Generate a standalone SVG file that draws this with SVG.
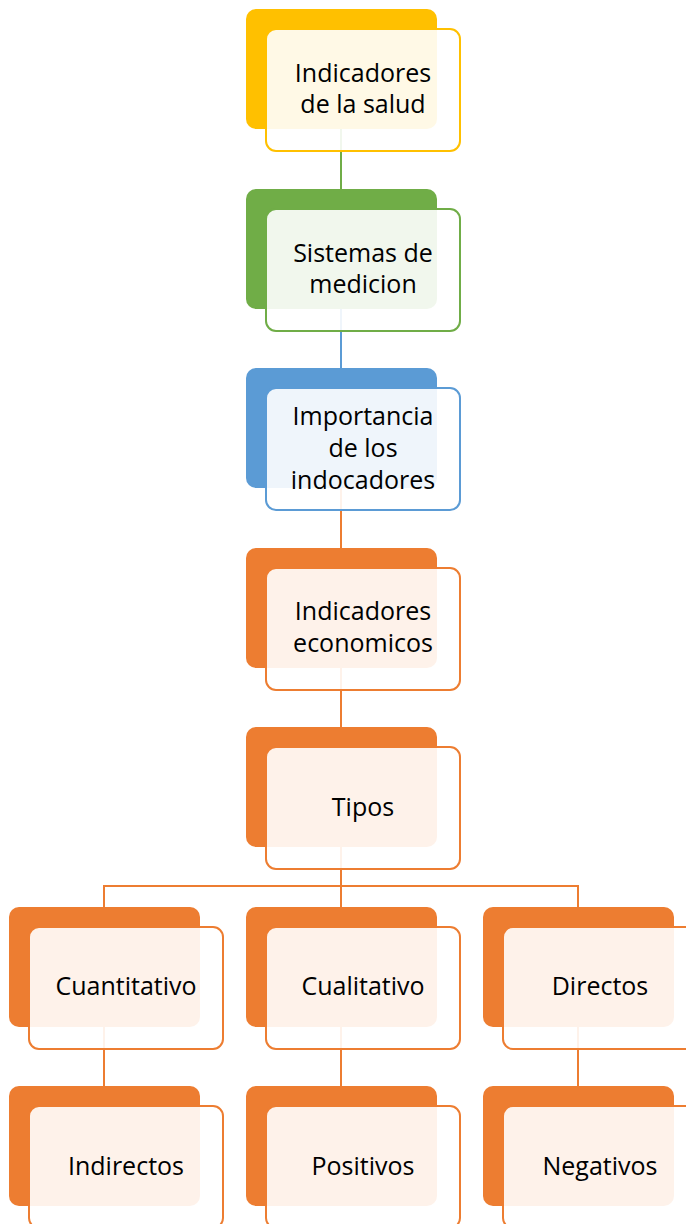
<svg xmlns="http://www.w3.org/2000/svg" width="686" height="1224" viewBox="0 0 686 1224">
<style>
.back{stroke:none}
.front{fill:#ffffff;fill-opacity:0.9;stroke-width:2}
.t{font-family:"Open Sans","Liberation Sans",sans-serif;font-size:25px;fill:#000000;text-anchor:middle}
.c{fill:none;stroke-width:2}
</style>
<rect width="686" height="1224" fill="#ffffff"/>
<g id="connectors">
<line class="c" x1="341" y1="129" x2="341" y2="189" stroke="#70AD47"/>
<line class="c" x1="341" y1="309" x2="341" y2="368" stroke="#5B9BD5"/>
<line class="c" x1="341" y1="488" x2="341" y2="548" stroke="#ED7D31"/>
<line class="c" x1="341" y1="668" x2="341" y2="727" stroke="#ED7D31"/>
<polyline class="c" points="341,847 341,886" stroke="#ED7D31"/>
<polyline class="c" points="104,907 104,886 578,886 578,907" stroke="#ED7D31"/>
<line class="c" x1="341" y1="886" x2="341" y2="907" stroke="#ED7D31"/>
<line class="c" x1="104" y1="1027" x2="104" y2="1086" stroke="#ED7D31"/>
<line class="c" x1="341" y1="1027" x2="341" y2="1086" stroke="#ED7D31"/>
<line class="c" x1="578" y1="1027" x2="578" y2="1086" stroke="#ED7D31"/>
</g>
<g id="n1">
<rect class="back" x="246" y="9" width="191" height="120" rx="10" fill="#FFC000"/>
<rect class="front" x="266" y="29" width="194" height="122" rx="10" stroke="#FFC000"/>
<text class="t" x="363" y="82">Indicadores</text>
<text class="t" x="363" y="113">de la salud</text>
</g>
<g id="n2">
<rect class="back" x="246" y="189" width="191" height="120" rx="10" fill="#70AD47"/>
<rect class="front" x="266" y="209" width="194" height="122" rx="10" stroke="#70AD47"/>
<text class="t" x="363" y="262">Sistemas de</text>
<text class="t" x="363" y="293">medicion</text>
</g>
<g id="n3">
<rect class="back" x="246" y="368" width="191" height="120" rx="10" fill="#5B9BD5"/>
<rect class="front" x="266" y="388" width="194" height="122" rx="10" stroke="#5B9BD5"/>
<text class="t" x="363" y="425">Importancia</text>
<text class="t" x="363" y="457">de los</text>
<text class="t" x="363" y="489">indocadores</text>
</g>
<g id="n4">
<rect class="back" x="246" y="548" width="191" height="120" rx="10" fill="#ED7D31"/>
<rect class="front" x="266" y="568" width="194" height="122" rx="10" stroke="#ED7D31"/>
<text class="t" x="363" y="620">Indicadores</text>
<text class="t" x="363" y="652">economicos</text>
</g>
<g id="n5">
<rect class="back" x="246" y="727" width="191" height="120" rx="10" fill="#ED7D31"/>
<rect class="front" x="266" y="747" width="194" height="122" rx="10" stroke="#ED7D31"/>
<text class="t" x="363" y="816">Tipos</text>
</g>
<g id="n6">
<rect class="back" x="9" y="907" width="191" height="120" rx="10" fill="#ED7D31"/>
<rect class="front" x="29" y="927" width="194" height="122" rx="10" stroke="#ED7D31"/>
<text class="t" x="126" y="995">Cuantitativo</text>
</g>
<g id="n7">
<rect class="back" x="246" y="907" width="191" height="120" rx="10" fill="#ED7D31"/>
<rect class="front" x="266" y="927" width="194" height="122" rx="10" stroke="#ED7D31"/>
<text class="t" x="363" y="995">Cualitativo</text>
</g>
<g id="n8">
<rect class="back" x="483" y="907" width="191" height="120" rx="10" fill="#ED7D31"/>
<rect class="front" x="503" y="927" width="194" height="122" rx="10" stroke="#ED7D31"/>
<text class="t" x="600" y="995">Directos</text>
</g>
<g id="n9">
<rect class="back" x="9" y="1086" width="191" height="120" rx="10" fill="#ED7D31"/>
<rect class="front" x="29" y="1106" width="194" height="122" rx="10" stroke="#ED7D31"/>
<text class="t" x="126" y="1175">Indirectos</text>
</g>
<g id="n10">
<rect class="back" x="246" y="1086" width="191" height="120" rx="10" fill="#ED7D31"/>
<rect class="front" x="266" y="1106" width="194" height="122" rx="10" stroke="#ED7D31"/>
<text class="t" x="363" y="1175">Positivos</text>
</g>
<g id="n11">
<rect class="back" x="483" y="1086" width="191" height="120" rx="10" fill="#ED7D31"/>
<rect class="front" x="503" y="1106" width="194" height="122" rx="10" stroke="#ED7D31"/>
<text class="t" x="600" y="1175">Negativos</text>
</g>
</svg>
